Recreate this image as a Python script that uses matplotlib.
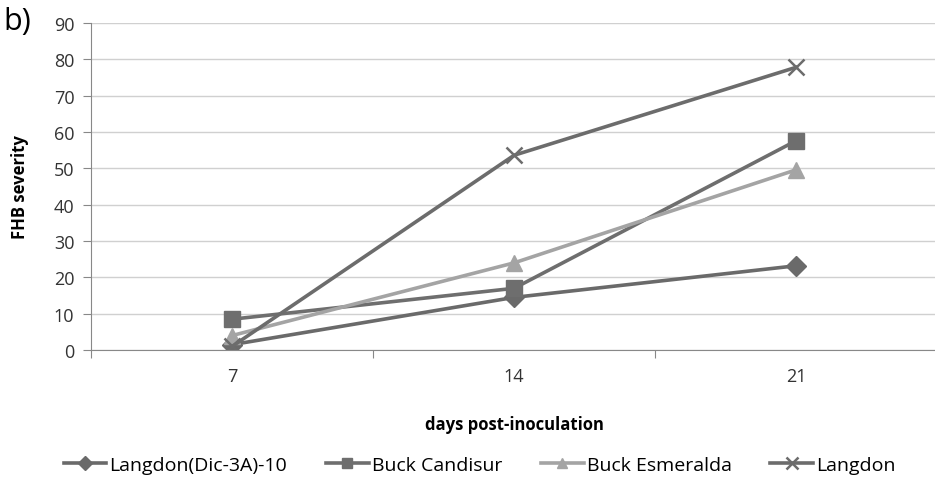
import numpy as np
import matplotlib.pyplot as plt

plt.rcParams['font.family'] = ['Open Sans', 'DejaVu Sans']

days = ['7', '14', '21']
langdon_dic = [1.5, 14.5, 23.2]
buck_candisur = [8.5, 17.0, 57.6]
buck_esmeralda = [4.0, 24.0, 49.6]
langdon = [1.0, 53.6, 77.8]

series = [
    ('Langdon(Dic-3A)-10', langdon_dic, '#6a6a6a', 'D', 10),
    ('Buck Candisur', buck_candisur, '#6e6e6e', 's', 11),
    ('Buck Esmeralda', buck_esmeralda, '#a4a4a4', '^', 11),
    ('Langdon', langdon, '#6c6c6c', 'x', 12),
]

fig = plt.figure(figsize=(9.35, 4.89), dpi=100)
ax = fig.add_axes([0.0973, 0.282, 0.905, 0.669])

x = np.arange(len(days))
for name, vals, col, mk, ms in series:
    if mk == 'x':
        ax.plot(x, vals, color=col, lw=2.6, marker=mk, ms=ms, mew=1.8, label=name)
    else:
        ax.plot(x, vals, color=col, lw=2.6, marker=mk, ms=ms, label=name)

ax.set_xlim(-0.5, 2.5)
ax.set_ylim(0, 90)
ax.set_yticks(np.arange(0, 91, 10))
ax.set_xticks([-0.5, 0.5, 1.5, 2.5])
ax.set_xticklabels([])
ax.set_xticks(x, minor=True)
ax.set_xticklabels(days, minor=True)
ax.tick_params(axis='x', which='minor', length=0, pad=12, labelsize=13, colors='#333333')
ax.tick_params(axis='x', which='major', length=6, color='#888888', direction='out')
ax.tick_params(axis='y', length=6, color='#888888', labelsize=13, labelcolor='#333333', pad=6)

ax.grid(axis='y', color='#d0d0d0', lw=1)
ax.set_axisbelow(True)
for s in ['top', 'right']:
    ax.spines[s].set_visible(False)
ax.spines['left'].set_color('#888888')
ax.spines['bottom'].set_color('#888888')

ax.set_ylabel('FHB severity', fontsize=12, fontweight='bold', labelpad=18)
ax.set_xlabel('days post-inoculation', fontsize=12, fontweight='bold', labelpad=22)

fig.text(0.004, 0.955, 'b)', fontsize=22, va='center', ha='left')

handles, labels = ax.get_legend_handles_labels()
fig.legend(handles, labels, loc='center', bbox_to_anchor=(0.513, 0.048), ncol=4,
           frameon=False, fontsize=14, handlelength=2.2, columnspacing=2.0,
           handletextpad=0.15, markerscale=0.7)

fig.savefig('out.png', dpi=100)
